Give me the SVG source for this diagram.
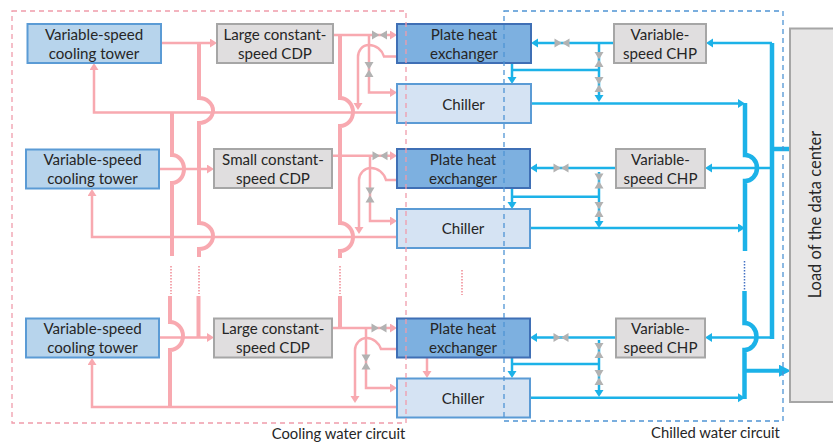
<svg xmlns="http://www.w3.org/2000/svg" width="833" height="443" viewBox="0 0 833 443">
<style>
text{font-family:"Lato","Liberation Sans",sans-serif;font-size:15.1px;fill:#262626;text-anchor:middle}
rect{stroke-width:2}
.tower{fill:#b7d4ec;stroke:#5b9bd5}
.cdp{fill:#e0dedf;stroke:#a6a6a6}
.phe{fill:#7db0e0;stroke:#3f6fb5}
.chiller{fill:#d5e3f3;stroke:#5b9bd5}
.load{fill:#e7e6e6;stroke:#a6a6a6}
path{fill:none}
.p{stroke:#f8a9b0;stroke-width:2.5}
.pb{stroke:#f8a9b0;stroke-width:4}
.pa{stroke:#f8a9b0;stroke-width:2.5;marker-end:url(#ap)}
.b{stroke:#1cb2e8;stroke-width:2.5}
.bb{stroke:#1cb2e8;stroke-width:4.5}
.ba{stroke:#1cb2e8;stroke-width:2.5;marker-end:url(#ab)}
.dp{stroke:#f08a94;stroke-width:1.5;stroke-dasharray:1.5 1.5}
.db{stroke:#4472c4;stroke-width:1.5;stroke-dasharray:1.5 1.5}
.cp{fill:none;stroke:#f09cab;stroke-width:1.3;stroke-dasharray:5 4}
.cb{fill:none;stroke:#4f94d4;stroke-width:1.3;stroke-dasharray:5 4}
.v{fill:#b2b2b2}
</style>
<defs>
<marker id="ap" markerUnits="userSpaceOnUse" markerWidth="9" markerHeight="10" refX="4" refY="4.5" orient="auto"><polygon points="0,0 7,4.5 0,9" fill="#f8a9b0"/></marker>
<marker id="ab" markerUnits="userSpaceOnUse" markerWidth="9" markerHeight="10" refX="4" refY="4.5" orient="auto"><polygon points="0,0 7,4.5 0,9" fill="#1cb2e8"/></marker>
<marker id="abig" markerUnits="userSpaceOnUse" markerWidth="13" markerHeight="13" refX="5" refY="6" orient="auto"><polygon points="0,0 12,6 0,12" fill="#1cb2e8"/></marker>
<polygon id="vh" class="v" points="-7.5,-4.5 0,0 7.5,-4.5 7.5,4.5 0,0 -7.5,4.5"/>
<polygon id="vv" class="v" points="-4.5,-7.5 4.5,-7.5 0,0 4.5,7.5 -4.5,7.5 0,0"/>
</defs>
<g id="connectors">
<path class="pa" d="M161 43H214"/>
<path class="pa" d="M159 169H211"/>
<path class="pa" d="M159 337.500H211"/>
<path class="pb" d="M199 43V98A14 12.500 0 0 1 199 123V223A14 13 0 0 1 199 249V257"/>
<path class="pb" d="M198.500 296V337"/>
<path class="pb" d="M172 113V155A12 14 0 0 1 172 183V256"/>
<path class="pb" d="M170 296V322A13 14 0 0 1 170 350V407"/>
<path class="pb" d="M340 35V98A13 14 0 0 1 340 126V223A13 14 0 0 1 340 251V258"/>
<path class="pb" d="M340 296V328"/>
<path class="dp" d="M171 266V294M199 266V294M340 266V294M462 270V295"/>
<path class="pa" d="M397 112.500H94V66"/>
<path class="pa" d="M397 237H92V192"/>
<path class="pa" d="M397 407H92V361"/>
<path class="pa" d="M333 35H394"/>
<path class="pa" d="M369 35V92.500H394"/>
<path class="pa" d="M397 56.500H384C382 50 376 45 369 45C362 45 358 51 358 57V107"/>
<path class="pa" d="M332 155.700H394"/>
<path class="pa" d="M370 155.700V221H394"/>
<path class="pa" d="M397 180H386C384 173 378 168 371 168C364 168 359 174 359 180V231"/>
<path class="pa" d="M332 328H394"/>
<path class="pa" d="M366 328V388H394"/>
<path class="pa" d="M397 349H381C379 343 373 338 367 338C360 338 355 344 355 350V400"/>
<path class="pa" d="M427 357V375"/>
<use href="#vh" x="379.500" y="35"/><use href="#vv" x="369" y="69.500"/>
<use href="#vh" x="380" y="155.700"/><use href="#vv" x="370" y="195"/>
<use href="#vh" x="379" y="328"/><use href="#vv" x="366" y="362"/>
<path class="bb" d="M772 43V339"/>
<path class="bb" d="M772 149H790"/>
<path class="ba" d="M772 43H709"/>
<path class="ba" d="M772 168H708"/>
<path class="ba" d="M772 337.500H708"/>
<path class="bb" d="M745 103V155A12 13 0 0 1 745 181V251"/>
<path class="bb" d="M744.500 291V323A12 13.500 0 0 1 744.500 350V399"/>
<path class="db" d="M744.500 261V290"/>
<path d="M745 370.700H784" stroke="#1cb2e8" stroke-width="4" marker-end="url(#abig)"/>
<path class="ba" d="M531 103.500H742"/>
<path class="ba" d="M530 228H742"/>
<path class="ba" d="M530 397.700H742"/>
<path class="ba" d="M614 43H534"/>
<path class="ba" d="M599 43V99"/>
<path class="b" d="M512 70H599"/>
<path class="ba" d="M512 63V81"/>
<path class="ba" d="M616 168H533"/>
<path class="ba" d="M599 172V225"/>
<path class="b" d="M512 196.700H599"/>
<path class="ba" d="M512 188V206"/>
<path class="ba" d="M616 337.500H533"/>
<path class="ba" d="M599 340V394"/>
<path class="b" d="M512 364H599"/>
<path class="ba" d="M512 357V375"/>
<use href="#vh" x="562" y="43"/><use href="#vv" x="599" y="59.500"/><use href="#vv" x="599" y="84.500"/>
<use href="#vh" x="561" y="168"/><use href="#vv" x="599" y="181"/><use href="#vv" x="599" y="209.500"/>
<use href="#vh" x="561" y="337.500"/><use href="#vv" x="599" y="350.500"/><use href="#vv" x="599" y="377.500"/>
</g>
<g id="tower1"><rect class="tower" x="27.500" y="24" width="133.500" height="39"/><text x="94" y="40">Variable-speed</text><text x="94" y="59">cooling tower</text></g>
<g id="tower2"><rect class="tower" x="26" y="149.500" width="133" height="39"/><text x="92.500" y="165">Variable-speed</text><text x="92.500" y="184">cooling tower</text></g>
<g id="tower3"><rect class="tower" x="26" y="318.500" width="133" height="39"/><text x="92.500" y="334">Variable-speed</text><text x="92.500" y="353">cooling tower</text></g>
<g id="cdp1"><rect class="cdp" x="217" y="24" width="116" height="39"/><text x="275" y="40">Large constant-</text><text x="275" y="59">speed CDP</text></g>
<g id="cdp2"><rect class="cdp" x="214" y="149" width="118" height="39"/><text x="273" y="165">Small constant-</text><text x="273" y="184">speed CDP</text></g>
<g id="cdp3"><rect class="cdp" x="214" y="318.500" width="118" height="39"/><text x="273" y="334">Large constant-</text><text x="273" y="353">speed CDP</text></g>
<g id="phe1"><rect class="phe" x="397" y="24" width="134" height="39"/><text x="464" y="40">Plate heat</text><text x="464" y="59">exchanger</text></g>
<g id="phe2"><rect class="phe" x="397" y="149" width="133" height="39"/><text x="463" y="165">Plate heat</text><text x="463" y="184">exchanger</text></g>
<g id="phe3"><rect class="phe" x="397" y="318.500" width="133" height="39"/><text x="463" y="334">Plate heat</text><text x="463" y="353">exchanger</text></g>
<g id="chiller1"><rect class="chiller" x="397" y="84" width="134" height="39"/><text x="463.500" y="109.500">Chiller</text></g>
<g id="chiller2"><rect class="chiller" x="397" y="209" width="133" height="39"/><text x="463" y="234">Chiller</text></g>
<g id="chiller3"><rect class="chiller" x="397" y="378.500" width="133" height="39"/><text x="463" y="404">Chiller</text></g>
<g id="chp1"><rect class="cdp" x="614" y="24" width="92" height="39"/><text x="660" y="40">Variable-</text><text x="660" y="59">speed CHP</text></g>
<g id="chp2"><rect class="cdp" x="616" y="149" width="89" height="39"/><text x="660.500" y="165">Variable-</text><text x="660.500" y="184">speed CHP</text></g>
<g id="chp3"><rect class="cdp" x="616" y="318.500" width="89" height="39"/><text x="660.500" y="334">Variable-</text><text x="660.500" y="353">speed CHP</text></g>
<g id="load"><rect class="load" x="790" y="28.500" width="50" height="373.500"/><text transform="translate(821 214.500) rotate(-90)" style="font-size:16.500px">Load of the data center</text></g>
<g id="cooling-circuit"><rect class="cp" x="12" y="11" width="394" height="412"/><text x="338.500" y="439" style="font-size:14.800px">Cooling water circuit</text></g>
<g id="chilled-circuit"><rect class="cb" x="504" y="11" width="279" height="410"/><text x="715.500" y="438" style="font-size:14.800px">Chilled water circuit</text></g>
</svg>
